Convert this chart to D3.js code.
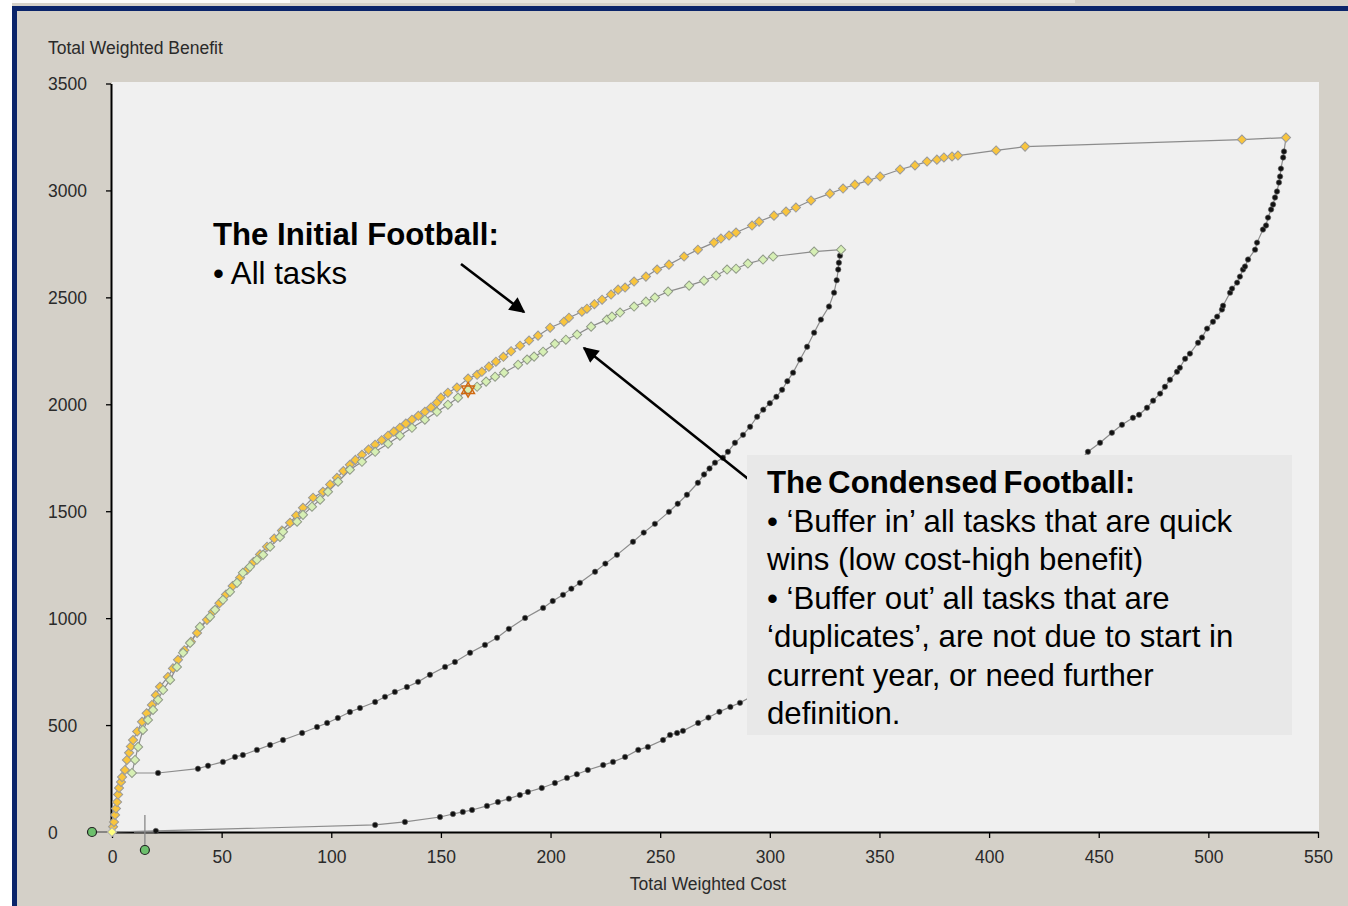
<!DOCTYPE html>
<html>
<head>
<meta charset="utf-8">
<script src="https://cdn.jsdelivr.net/npm/d3@7/dist/d3.min.js"></script>
<style>
  html, body { margin: 0; padding: 0; background: #ffffff; }
  svg { display: block; }
  text { font-family: "Liberation Sans", Arial, sans-serif; }
</style>
</head>
<body>
<svg id="chart" width="1348" height="906"></svg>
<script>
// ---------- DATA ----------
const xTicks = [0, 50, 100, 150, 200, 250, 300, 350, 400, 450, 500, 550];
const yTicks = [0, 500, 1000, 1500, 2000, 2500, 3000, 3500];
const xTitle = "Total Weighted Cost";
const yTitle = "Total Weighted Benefit";

// Initial football – upper edge (orange markers) [cost, benefit]
const initialUpper = [
  [0,0],[0.5,25],[0.9,47],[1.4,80],[1.8,110],[2.3,140],[2.8,175],[3.2,206],[4.1,234],[4.6,257],
  [5.9,290],[6.8,337],[7.8,370],[8.6,400],[9.6,430],[11.5,470],[13.7,515],[15.8,555],[18.2,594],
  [20,640],[21.9,679],[25.5,725],[27.8,765],[30.1,805],[33,850],[36,890],[38.8,931],[43.3,992],
  [46,1030],[49,1070],[52,1110],[55,1150],[58.4,1189],[61.5,1225],[64.5,1262],[67.5,1298],
  [70.7,1334],[74,1372],[77.5,1410],[81.2,1446],[84,1480],[87.1,1516],[91.7,1563],[96.2,1591],
  [99.5,1625],[102.6,1656],[105.5,1688],[108.5,1717],[111,1740],[114,1764],[117,1788],[120,1811],
  [123,1832],[125.9,1853],[128.5,1872],[131.3,1890],[134,1910],[136.8,1928],[139.7,1946],
  [142.7,1965],[145.5,1985],[148.2,2008],[150,2031],[153.2,2054],[157.3,2078],[162.4,2120],
  [166.5,2138],[168.7,2152],[171.9,2176],[175.1,2199],[178.5,2222],[182,2248],[186.1,2274],
  [190.2,2298],[194.3,2321],[199.8,2358],[206.1,2386],[208.4,2405],[214.3,2433],[216.6,2447],
  [220,2468],[223.5,2489],[227.6,2513],[230.8,2536],[234,2546],[238.1,2574],[243.5,2597],
  [248.6,2630],[254,2653],[260.9,2691],[267.2,2723],[274.5,2756],[277.7,2775],[281.4,2789],
  [284.6,2803],[291.9,2836],[295.1,2854],[301.9,2882],[307.4,2901],[311.9,2920],[318.8,2953],
  [327.4,2985],[333.4,3009],[338.8,3027],[344.8,3046],[350.3,3065],[359.4,3098],[366.2,3117],
  [371.7,3135],[376.2,3144],[379.4,3154],[383.1,3159],[385.8,3163],[403.2,3187],[416.4,3205],
  [515.3,3238],[535.4,3247]
];

// Initial football – lower edge (black markers)
const initialLower = [
  [0,0],[20,5],[120,33],[133.6,47],[149.6,70],[155.5,84],[160,94],[164.2,103],[171,122],[176,140],
  [181,156],[186,173],[189.7,187],[196,206],[202,229],[207.5,253],[212,270],[217,290],[224,313],
  [228.5,328],[234,351],[240,384],[244.4,398],[251.3,430],[254.5,454],[257.7,463],[260.4,473],
  [267.3,510],[272,535],[277,562],[282,585],[286.4,604],[300,680],[320,800],[340,930],[360,1070],
  [380,1215],[400,1365],[420,1520],[435,1660],[445.1,1778],[450.6,1820],[456,1867],[460.6,1904],
  [465.6,1937],[468.4,1951],[472,1984],[474.8,2017],[478,2050],[480.2,2082],[482.5,2115],
  [485.7,2152],[487,2171],[489.4,2213],[491.6,2237],[495.3,2288],[497.1,2312],[499.4,2354],
  [502.1,2386],[504,2410],[506.2,2443],[506.7,2461],[509.9,2522],[510.8,2541],[513.1,2569],
  [514.4,2597],[515.8,2630],[516.7,2644],[518.1,2677],[521.3,2723],[522.2,2756],[524.9,2817],
  [526.3,2836],[527.2,2873],[528.6,2911],[529.5,2934],[530.4,2967],[531.3,2995],[532.2,3037],
  [532.7,3065],[533.1,3102],[534.1,3154],[534.5,3182],[535.4,3247]
];

// Condensed football – upper edge (green markers)
const condensedUpper = [
  [9.1,276],[10.5,337],[11.9,398],[14.1,477],[16.4,524],[18.7,571],[21,618],[23.3,664],[26.5,711],
  [29.6,772],[32.4,838],[35.6,884],[40.1,959],[44.7,1006],[47,1039],[50.6,1086],[53.8,1123],
  [57,1165],[59.7,1212],[62.9,1240],[66.1,1273],[68.9,1296],[72.1,1334],[76.6,1380],[78,1404],
  [84.4,1451],[87.1,1483],[91.2,1521],[94.9,1554],[98.5,1591],[103.1,1638],[108.5,1694],
  [114,1731],[120,1778],[125.9,1816],[131.3,1853],[136.8,1890],[142.7,1928],[148.2,1965],
  [153.2,1998],[157.8,2031],[162.4,2068],[166.5,2082],[170.6,2106],[174.7,2129],[178.8,2148],
  [185.2,2185],[189.3,2209],[192.5,2223],[196.6,2246],[202,2283],[207,2302],[212.1,2326],
  [218.5,2363],[225.7,2396],[228,2410],[231.7,2429],[238.1,2457],[243.5,2480],[247.6,2499],
  [253.6,2527],[263.2,2555],[270,2578],[275.5,2602],[280.5,2630],[284.6,2634],[290,2658],
  [296.9,2677],[301.5,2691],[320.2,2714],[332.5,2723]
];

// Condensed football – lower edge (black markers)
const condensedLower = [
  [9.1,276],[21,276],[39.2,296],[43.8,310],[50.6,328],[56.1,351],[59.7,360],[66.1,384],[72.1,407],
  [78,430],[86.7,463],[93.5,491],[98.1,510],[103,533],[108.5,561],[113.1,580],[120,608],
  [124.5,632],[129,655],[134.5,678],[139.6,702],[145,735],[151.9,772],[156.4,795],[163.3,838],
  [170.1,875],[175.6,908],[181,950],[188.4,1001],[196.6,1048],[201,1080],[205.7,1109],
  [209.5,1138],[213.4,1165],[220.3,1217],[225,1255],[230.3,1296],[237.6,1357],[242.5,1400],
  [247.6,1441],[254,1497],[258,1535],[262.2,1577],[267.2,1633],[270,1672],[272.5,1700],
  [275,1727],[278.6,1750],[280.9,1778],[284.1,1820],[287.8,1857],[291,1895],[294.2,1942],
  [297,1975],[300,2005],[303,2035],[305.6,2068],[308,2108],[310.6,2148],[313.8,2209],
  [317,2269],[320.2,2335],[323.3,2396],[327,2457],[329.3,2522],[330.5,2580],[331.2,2630],
  [331.5,2662],[332,2695],[332.5,2723]
];

// Highlighted task (star marker)
const starPoint = [162.4, 2068];

// Annotations
const note1Title = "The Initial Football:";
const note1Lines = ["\u2022 All tasks"];
const note2Title = "The Condensed Football:";
const note2Lines = [
  "\u2022 \u2018Buffer in\u2019 all tasks that are quick",
  "wins (low cost-high benefit)",
  "\u2022 \u2018Buffer out\u2019 all tasks that are",
  "\u2018duplicates\u2019, are not due to start in",
  "current year, or need further",
  "definition."
];

// ---------- DRAW ----------
const svg = d3.select("#chart");
const W = 1348, H = 906;

// window chrome
svg.append("rect").attr("x", 0).attr("y", 0).attr("width", W).attr("height", H).attr("fill", "#ffffff");
svg.append("rect").attr("x", 12).attr("y", 0).attr("width", W - 12).attr("height", H).attr("fill", "#d4d0c8");
svg.append("rect").attr("x", 12).attr("y", 0).attr("width", 278).attr("height", 3).attr("fill", "#fafafa");
svg.append("rect").attr("x", 290).attr("y", 0).attr("width", 785).attr("height", 3).attr("fill", "#e6e4de");
svg.append("rect").attr("x", 12).attr("y", 6).attr("width", W - 12).attr("height", 5).attr("fill", "#0a246a");
svg.append("rect").attr("x", 12).attr("y", 6).attr("width", 5).attr("height", H - 6).attr("fill", "#0a246a");

const x = d3.scaleLinear().domain([0, 550]).range([112, 1318]);
const y = d3.scaleLinear().domain([0, 3500]).range([832, 83.5]);

// plot background
svg.append("rect")
  .attr("x", x(0)).attr("y", y(3500) - 1.5)
  .attr("width", x(550) - x(0) + 1).attr("height", y(0) - y(3500) + 1.5)
  .attr("fill", "#f0f0f0");

// axes
const fmt = d3.format("d");
const xAxis = svg.append("g").attr("transform", `translate(0,${y(0)})`)
  .call(d3.axisBottom(x).tickValues(xTicks).tickFormat(fmt).tickSize(6).tickSizeOuter(0).tickPadding(8));
const yAxis = svg.append("g").attr("transform", `translate(${x(0) - 1},0)`)
  .call(d3.axisLeft(y).tickValues(yTicks).tickFormat(fmt).tickSize(5).tickSizeOuter(0));

[xAxis, yAxis].forEach(g => {
  g.select(".domain").attr("stroke", "#000").attr("stroke-width", 2);
  g.selectAll(".tick line").attr("stroke", "#000").attr("stroke-width", 1.3);
  g.selectAll(".tick text").attr("font-size", 17.5).attr("fill", "#2a2a2a")
    .attr("font-family", "'Liberation Sans', Arial, sans-serif");
});
yAxis.selectAll(".tick line").filter(d => d === 0).remove();
yAxis.selectAll(".tick text").attr("text-anchor", "start").attr("x", 48 - (x(0) - 1)).attr("dy", "0.36em");
xAxis.selectAll(".tick text").attr("dy", "0.95em");

svg.append("text").attr("x", 48).attr("y", 54).attr("font-size", 17.5).attr("fill", "#2a2a2a").text(yTitle);
svg.append("text").attr("x", (x(0) + x(550)) / 2 - 7).attr("y", 890).attr("text-anchor", "middle")
  .attr("font-size", 17.5).attr("fill", "#2a2a2a").text(xTitle);

// slider widgets near origin
svg.append("line").attr("x1", x(0) - 20).attr("x2", x(0)).attr("y1", y(0)).attr("y2", y(0))
  .attr("stroke", "#555").attr("stroke-width", 1.2);
svg.append("circle").attr("cx", x(0) - 20).attr("cy", y(0)).attr("r", 4.5)
  .attr("fill", "#6cbf6c").attr("stroke", "#222").attr("stroke-width", 1.2);
svg.append("line").attr("x1", x(15)).attr("x2", x(15)).attr("y1", y(0) - 17).attr("y2", y(0) + 14)
  .attr("stroke", "#888").attr("stroke-width", 1.3);
svg.append("line").attr("x1", x(10)).attr("x2", x(20.5)).attr("y1", y(0)).attr("y2", y(0))
  .attr("stroke", "#888").attr("stroke-width", 1.3);
svg.append("circle").attr("cx", x(15)).attr("cy", y(0) + 18).attr("r", 4.5)
  .attr("fill", "#6cbf6c").attr("stroke", "#222").attr("stroke-width", 1.2);

// lines
const line = d3.line().x(d => x(d[0])).y(d => y(d[1]));
const series = [initialLower, condensedLower, initialUpper, condensedUpper];
series.forEach(s => {
  svg.append("path").datum(s).attr("d", line)
    .attr("fill", "none").attr("stroke", "#8c8c8c").attr("stroke-width", 1.2);
});

// black dots
[initialLower, condensedLower].forEach(s => {
  svg.append("g").selectAll("circle").data(s.slice(1)).join("circle")
    .attr("cx", d => x(d[0])).attr("cy", d => y(d[1])).attr("r", 2.7)
    .attr("fill", "#111").attr("stroke", "#666").attr("stroke-width", 0.6);
});

// diamond markers
const diamond = d3.symbol().type(d3.symbolSquare).size(42);
function diamonds(data, fill, stroke) {
  svg.append("g").selectAll("path").data(data).join("path")
    .attr("d", diamond)
    .attr("transform", d => `translate(${x(d[0])},${y(d[1])}) rotate(45)`)
    .attr("fill", fill).attr("stroke", stroke).attr("stroke-width", 1);
}
diamonds(initialUpper.slice(1), "#f9c53d", "#9a9a9a");
diamonds(condensedUpper, "#d6efb4", "#909a88");
diamonds([initialUpper[0]], "#ffff80", "#b0b0b0");

// star marker
const tri = d3.symbol().type(d3.symbolTriangle).size(70);
[0, 180].forEach(r => {
  svg.append("path").attr("d", tri)
    .attr("transform", `translate(${x(starPoint[0])},${y(starPoint[1])}) rotate(${r})`)
    .attr("fill", "none").attr("stroke", "#d06a10").attr("stroke-width", 1.5);
});

// arrows
const defs = svg.append("defs");
defs.append("marker").attr("id", "ah").attr("viewBox", "0 0 10 10")
  .attr("refX", 9).attr("refY", 5).attr("markerWidth", 7).attr("markerHeight", 6)
  .attr("markerUnits", "strokeWidth").attr("orient", "auto")
  .append("path").attr("d", "M0,0 L10,5 L0,10 Z").attr("fill", "#000");

svg.append("line").attr("x1", 461).attr("y1", 264).attr("x2", 524).attr("y2", 312)
  .attr("stroke", "#000").attr("stroke-width", 2.6).attr("marker-end", "url(#ah)");
svg.append("line").attr("x1", 752).attr("y1", 482).attr("x2", 584).attr("y2", 348)
  .attr("stroke", "#000").attr("stroke-width", 2.6).attr("marker-end", "url(#ah)");

// annotation 1
const fs = 31.2, lh = 38.5;
svg.append("text").attr("x", 213).attr("y", 245).attr("font-size", fs).attr("font-weight", "bold")
  .attr("fill", "#000").text(note1Title);
note1Lines.forEach((t, i) => {
  svg.append("text").attr("x", 213).attr("y", 245 + lh * (i + 1)).attr("font-size", fs)
    .attr("fill", "#000").text(t);
});

// annotation 2 box
svg.append("rect").attr("x", 747).attr("y", 455).attr("width", 545).attr("height", 280)
  .attr("fill", "#e8e8e8");
svg.append("text").attr("x", 767).attr("y", 493).attr("font-size", fs).attr("font-weight", "bold")
  .attr("fill", "#000").attr("word-spacing", -3).text(note2Title);
note2Lines.forEach((t, i) => {
  svg.append("text").attr("x", 767).attr("y", 493 + lh * (i + 1)).attr("font-size", fs)
    .attr("fill", "#000").text(t);
});
</script>
</body>
</html>
